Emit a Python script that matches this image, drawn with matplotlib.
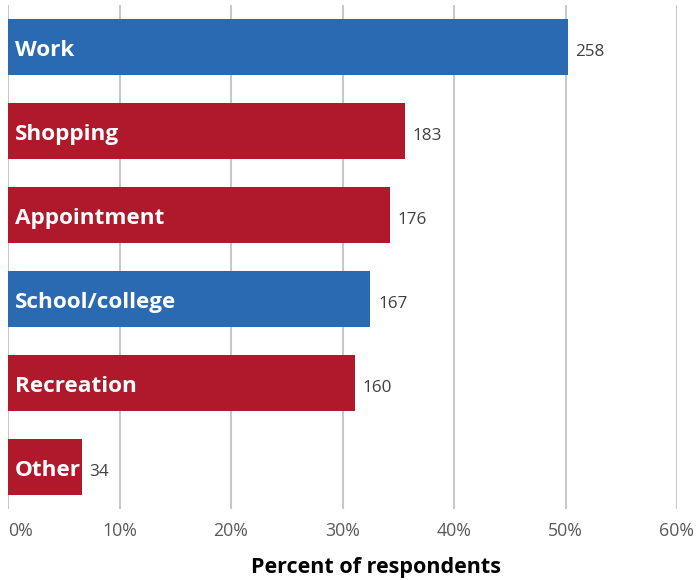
import matplotlib
matplotlib.use('Agg')
import matplotlib.pyplot as plt
from matplotlib.ticker import FuncFormatter

# trip purposes, counts of respondents
purposes = ['Work', 'Shopping', 'Appointment', 'School/college', 'Recreation', 'Other']
counts = [258, 183, 176, 167, 160, 34]
total_respondents = 514
bar_colors = ['#2a6ab2', '#b0182b', '#b0182b', '#2a6ab2', '#b0182b', '#b0182b']

pct = [100.0 * c / total_respondents for c in counts]

plt.rcParams['font.family'] = ['Open Sans', 'DejaVu Sans']

fig = plt.figure(figsize=(6.99, 5.80), dpi=100)
ax = fig.add_axes([8/699, 71/580, 669/699, 504/580])

ypos = list(range(len(purposes)))
ax.barh(ypos, pct, height=0.667, color=bar_colors, zorder=3)

for y, p, name, c in zip(ypos, pct, purposes, counts):
    ax.text(0.65, y + 0.04, name, color='white', fontsize=16.2, fontweight='bold',
            va='center', ha='left', zorder=4)
    ax.text(p + 0.7, y + 0.06, str(c), color='#404040', fontsize=12.3,
            va='center', ha='left', zorder=4)

ax.set_xlim(0, 60)
ax.set_ylim(len(purposes) - 0.5, -0.5)
ax.set_xticks(range(0, 61, 10))
ax.xaxis.set_major_formatter(FuncFormatter(lambda v, _: '%d%%' % v))
ax.set_yticks([])
ax.grid(axis='x', color='#c8c8c8', linewidth=1.5, zorder=0)
for s in ax.spines.values():
    s.set_visible(False)
ax.tick_params(axis='x', length=0, labelsize=12.8, labelcolor='#595959', pad=9)
for lbl in ax.get_xticklabels():
    lbl.set_x(lbl.get_position()[0])
ax.get_xticklabels()[0].set_ha('left')
ax.get_xticklabels()[0].set_x(0)

fig.text(376/699, 1 - 568/580, 'Percent of respondents', fontsize=15.5,
         fontweight='bold', color='black', ha='center', va='center')

fig.savefig('out.png', dpi=100)
